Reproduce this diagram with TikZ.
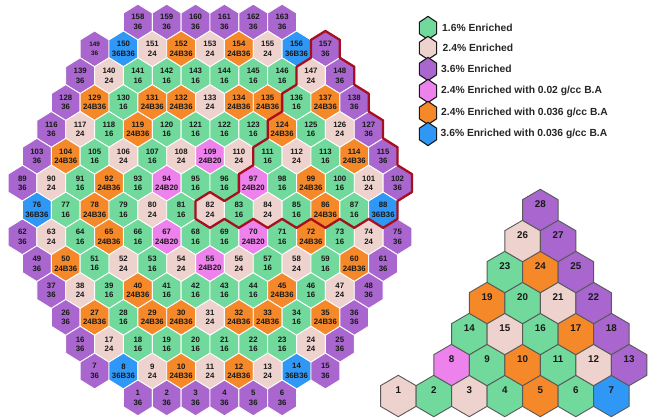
\documentclass[tikz,border=0pt]{standalone}
\usepackage{fontspec}
\setmainfont{Liberation Sans}
\definecolor{c16}{HTML}{70D99B}
\definecolor{c24}{HTML}{EDD2CD}
\definecolor{c36}{HTML}{A866CE}
\definecolor{c24B20}{HTML}{EE82EC}
\definecolor{c24B36}{HTML}{F5892A}
\definecolor{c36B36}{HTML}{2F97F5}
\definecolor{contour}{HTML}{A50F1E}
\tikzset{
  celltext/.style={font=\fontsize{7.8}{9.4}\selectfont\bfseries,align=center,text=black!90,inner sep=0pt},
  coretext/.style={font=\fontsize{9.8}{11}\selectfont\bfseries,text=black!90,inner sep=0pt},
  legtext/.style={font=\fontsize{10.3}{12}\selectfont\bfseries,anchor=west,text=black!85,inner sep=0pt},
  cellhex/.style={draw=white,line width=0.9pt,line join=round},
  corehex/.style={draw=black!65,line width=0.9pt,line join=round},
  leghex/.style={draw=black!90,line width=1.1pt,line join=round},
  redline/.style={draw=contour,line width=2.3pt,line join=round},
}
% #1 name, #2 x, #3 y, #4 half width, #5 half height, #6 half side, #7 style, #8 colour
\newcommand{\hexshape}[8]{%
  \coordinate (#1-T) at (#2,#3-#5);
  \coordinate (#1-TR) at (#2+#4,#3-#6);
  \coordinate (#1-BR) at (#2+#4,#3+#6);
  \coordinate (#1-B) at (#2,#3+#5);
  \coordinate (#1-BL) at (#2-#4,#3+#6);
  \coordinate (#1-TL) at (#2-#4,#3-#6);
  \path[#7,fill=#8] (#1-T)--(#1-TR)--(#1-BR)--(#1-B)--(#1-BL)--(#1-TL)--cycle;
}
% #1 row index from top, #2 first number, #3 cell count, #4 types
\newcommand{\hexrow}[4]{%
  \foreach \t [count=\i from 0] in {#4}{
    \pgfmathtruncatemacro{\n}{#2+\i}
    \pgfmathsetmacro{\cx}{210+(\i-(#3-1)/2)*28.85}
    \pgfmathsetmacro{\cy}{22+#1*26.85}
    \hexshape{c\n}{\cx}{\cy}{14.42}{17.9}{8.95}{cellhex}{c\t}
  }
}
\newcommand{\hextext}[4]{%
  \foreach \t [count=\i from 0] in {#4}{
    \pgfmathtruncatemacro{\n}{#2+\i}
    \pgfmathsetmacro{\cx}{210+(\i-(#3-1)/2)*28.85}
    \pgfmathsetmacro{\cy}{22+#1*26.85}
    \ifnum\n=149
      \node[celltext,font=\fontsize{6.4}{9}\selectfont\bfseries] (t\n) at (\cx,\cy) {\n\\\t};
    \else
      \node[celltext] (t\n) at (\cx,\cy) {\n\\\t};
    \fi
  }
}
\newcommand{\corecell}[4]{% number, column, row, colour
  \pgfmathsetmacro{\cx}{398.3+#2*35.5}
  \pgfmathsetmacro{\cy}{396-#3*31}
  \hexshape{p#1}{\cx}{\cy}{17.75}{20.7}{10.35}{corehex}{#4}
  \node[coretext] (n#1) at (\cx,\cy-5.5) {#1};
}
\newcommand{\legrow}[5]{% name, y, colour, text x, text
  \hexshape{l#1}{428}{#2}{8.6}{11.6}{5.8}{leghex}{#3}
  \node[legtext] (lt#1) at (#4,#2) {#5};
}
\begin{document}
\begin{tikzpicture}[x=1pt,y=-1pt]
\useasboundingbox (0,0) rectangle (648,419);
\fill[white] (0,0) rectangle (648,419);
\hexrow{0}{158}{6}{36,36,36,36,36,36}
\hexrow{1}{149}{9}{36,36B36,24,24B36,24,24B36,24,36B36,36}
\hexrow{2}{139}{10}{36,24,16,16,16,16,16,16,24,36}
\hexrow{3}{128}{11}{36,24B36,16,24B36,24B36,24,24B36,24B36,16,24B36,36}
\hexrow{4}{116}{12}{36,24,16,24B36,16,16,16,16,24B36,16,24,36}
\hexrow{5}{103}{13}{36,24B36,16,24,16,24,24B20,24,16,24,16,24B36,36}
\hexrow{6}{89}{14}{36,24,16,24B36,16,24B20,16,16,24B20,16,24B36,16,24,36}
\hexrow{7}{76}{13}{36B36,16,24B36,16,24,16,24,16,24,16,24B36,16,36B36}
\hexrow{8}{62}{14}{36,24,16,24B36,16,24B20,16,16,24B20,16,24B36,16,24,36}
\hexrow{9}{49}{13}{36,24B36,16,24,16,24,24B20,24,16,24,16,24B36,36}
\hexrow{10}{37}{12}{36,24,16,24B36,16,16,16,16,24B36,16,24,36}
\hexrow{11}{26}{11}{36,24B36,16,24B36,24B36,24,24B36,24B36,16,24B36,36}
\hexrow{12}{16}{10}{36,24,16,16,16,16,16,16,24,36}
\hexrow{13}{7}{9}{36,36B36,24,24B36,24,24B36,24,36B36,36}
\hexrow{14}{1}{6}{36,36,36,36,36,36}
\draw[redline] (c157-BL)--(c157-TL)--(c157-T)--(c157-TR)--(c157-BR)--(c148-TR)--(c148-BR)--(c138-TR)--(c138-BR)--(c127-TR)--(c127-BR)--(c115-TR)--(c115-BR)--(c102-TR)--(c102-BR)--(c102-B)--(c88-BR)--(c88-B)--(c88-BL)--(c87-B)--(c87-BL)--(c86-B)--(c86-BL)--(c85-B)--(c85-BL)--(c84-B)--(c84-BL)--(c83-B)--(c83-BL)--(c82-B)--(c82-BL)--(c82-TL)--(c82-T)--(c82-TR)--(c83-T)--(c97-TL)--(c97-T)--(c111-TL)--(c111-T)--(c124-TL)--(c124-T)--(c136-TL)--(c136-T)--(c147-TL)--(c147-T)--cycle;
\hextext{0}{158}{6}{36,36,36,36,36,36}
\hextext{1}{149}{9}{36,36B36,24,24B36,24,24B36,24,36B36,36}
\hextext{2}{139}{10}{36,24,16,16,16,16,16,16,24,36}
\hextext{3}{128}{11}{36,24B36,16,24B36,24B36,24,24B36,24B36,16,24B36,36}
\hextext{4}{116}{12}{36,24,16,24B36,16,16,16,16,24B36,16,24,36}
\hextext{5}{103}{13}{36,24B36,16,24,16,24,24B20,24,16,24,16,24B36,36}
\hextext{6}{89}{14}{36,24,16,24B36,16,24B20,16,16,24B20,16,24B36,16,24,36}
\hextext{7}{76}{13}{36B36,16,24B36,16,24,16,24,16,24,16,24B36,16,36B36}
\hextext{8}{62}{14}{36,24,16,24B36,16,24B20,16,16,24B20,16,24B36,16,24,36}
\hextext{9}{49}{13}{36,24B36,16,24,16,24,24B20,24,16,24,16,24B36,36}
\hextext{10}{37}{12}{36,24,16,24B36,16,16,16,16,24B36,16,24,36}
\hextext{11}{26}{11}{36,24B36,16,24B36,24B36,24,24B36,24B36,16,24B36,36}
\hextext{12}{16}{10}{36,24,16,16,16,16,16,16,24,36}
\hextext{13}{7}{9}{36,36B36,24,24B36,24,24B36,24,36B36,36}
\hextext{14}{1}{6}{36,36,36,36,36,36}
% fuel assembly sextant
\corecell{1}{0}{0}{c24}\corecell{2}{1}{0}{c16}\corecell{3}{2}{0}{c24}\corecell{4}{3}{0}{c16}\corecell{5}{4}{0}{c24B36}\corecell{6}{5}{0}{c16}\corecell{7}{6}{0}{c36B36}
\corecell{8}{1.5}{1}{c24B20}\corecell{9}{2.5}{1}{c16}\corecell{10}{3.5}{1}{c24B36}\corecell{11}{4.5}{1}{c16}\corecell{12}{5.5}{1}{c24}\corecell{13}{6.5}{1}{c36}
\corecell{14}{2}{2}{c16}\corecell{15}{3}{2}{c24}\corecell{16}{4}{2}{c16}\corecell{17}{5}{2}{c24B36}\corecell{18}{6}{2}{c36}
\corecell{19}{2.5}{3}{c24B36}\corecell{20}{3.5}{3}{c16}\corecell{21}{4.5}{3}{c24}\corecell{22}{5.5}{3}{c36}
\corecell{23}{3}{4}{c16}\corecell{24}{4}{4}{c24B36}\corecell{25}{5}{4}{c36}
\corecell{26}{3.5}{5}{c24}\corecell{27}{4.5}{5}{c36}
\corecell{28}{4}{6}{c36}
% legend
\legrow{a}{28}{c16}{442}{1.6\% Enriched}
\legrow{b}{48}{c24}{442.5}{2.4\% Enriched}
\legrow{c}{69}{c36}{441}{3.6\% Enriched}
\legrow{d}{91}{c24B20}{441}{2.4\% Enriched with 0.02 g/cc B.A}
\legrow{e}{113}{c24B36}{441}{2.4\% Enriched with 0.036 g/cc B.A}
\legrow{f}{134}{c36B36}{440.5}{3.6\% Enriched with 0.036 g/cc B.A}
\end{tikzpicture}
\end{document}
